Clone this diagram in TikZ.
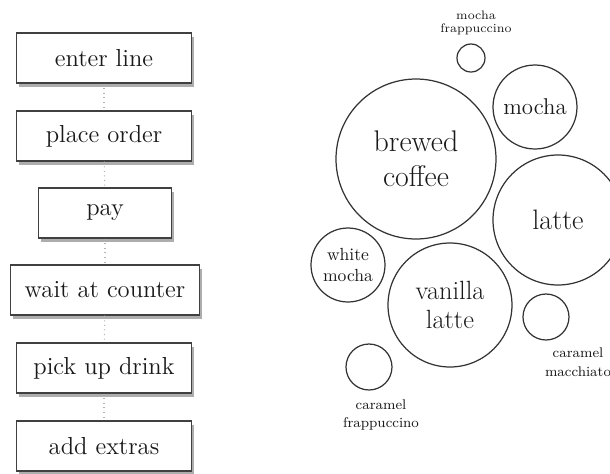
\documentclass[tikz,border=0pt]{standalone}
\usetikzlibrary{shadows}

\begin{document}
\begin{tikzpicture}[x=0.02cm,y=-0.02cm,
    every node/.style={text=black!90},
    stepbox/.style={rectangle,draw=black!75,line width=.8pt,fill=white,
      minimum height=1cm,font=\fontsize{14}{16}\selectfont,
      drop shadow={shadow xshift=1.5pt,shadow yshift=-2.2pt,fill=black!40,opacity=.8}},
    link/.style={gray!60,dotted,line width=.6pt},
    drink/.style={circle,draw=black!80,line width=.7pt,align=center,inner sep=0pt},
    tag/.style={align=center,inner sep=0pt,font=\fontsize{8}{10.5}\selectfont}]
  \clip (0,0) rectangle (610,474);

  % order steps
  \node[stepbox,minimum width=3.5cm]  (enter)   at (104,58)  {enter line};
  \node[stepbox,minimum width=3.5cm]  (order)   at (104,136) {place order};
  \node[stepbox,minimum width=2.66cm] (pay)     at (105,213) {pay};
  \node[stepbox,minimum width=3.78cm] (wait)    at (105,290) {wait at counter};
  \node[stepbox,minimum width=3.5cm]  (pickup)  at (104,368) {pick up drink};
  \node[stepbox,minimum width=3.5cm]  (extras)  at (104,446) {add extras};

  \draw[link] (enter) -- (order);
  \draw[link] (order) -- (pay);
  \draw[link] (pay) -- (wait);
  \draw[link] (wait) -- (pickup);
  \draw[link] (pickup) -- (extras);

  % drinks
  \node[drink,minimum size=3.2cm,font=\fontsize{17}{20}\selectfont] (brewed) at (416,159) {brewed\\coffee};
  \node[drink,minimum size=2.6cm,font=\fontsize{16}{19}\selectfont] (latte) at (558,220) {latte};
  \node[drink,minimum size=2.48cm,font=\fontsize{15}{17}\selectfont] (vanilla) at (450,305) {vanilla\\latte};
  \node[drink,minimum size=1.68cm,font=\fontsize{13}{15}\selectfont] (mocha) at (535,107) {mocha};
  \node[drink,minimum size=1.48cm,font=\fontsize{10}{12.5}\selectfont] (white) at (348,265) {white\\mocha};
  \node[drink,minimum size=0.56cm] (mfrap) at (471,58) {};
  \node[drink,minimum size=0.92cm] (cmac) at (546,317) {};
  \node[drink,minimum size=0.92cm] (cfrap) at (369,367) {};

  \node[tag,font=\fontsize{7}{7.5}\selectfont] (mfraptag) at (476,23) {mocha\\frappuccino};
  \node[tag] (cmactag) at (578,362) {caramel\\macchiato};
  \node[tag] (cfraptag) at (381,415) {caramel\\frappuccino};
\end{tikzpicture}
\end{document}
